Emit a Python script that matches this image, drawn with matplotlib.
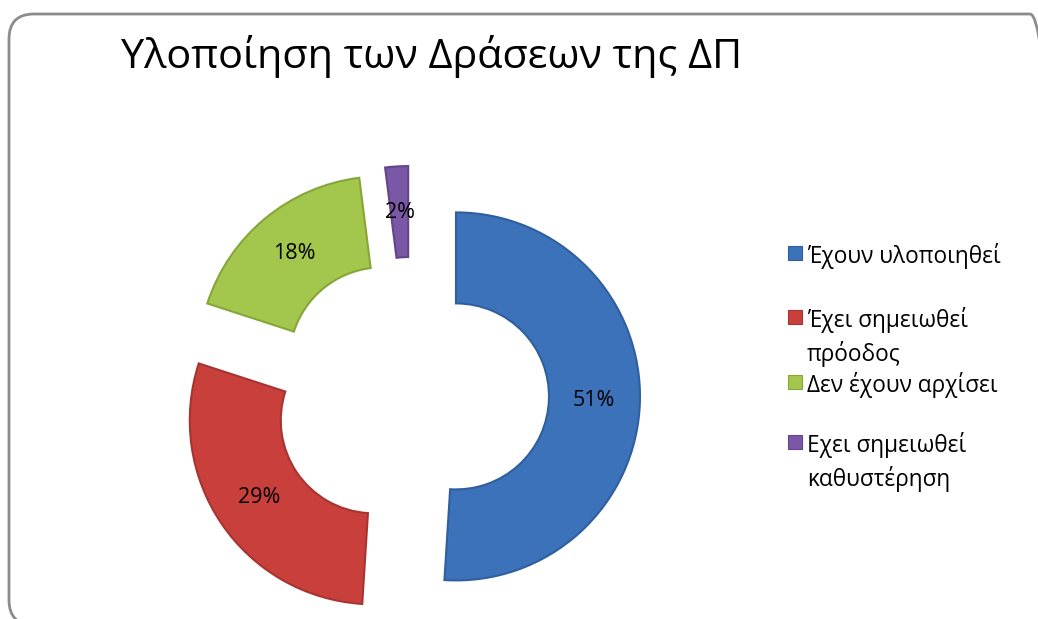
import matplotlib
matplotlib.use("Agg")
import matplotlib.pyplot as plt
from matplotlib.patches import FancyBboxPatch, Rectangle

# chart data
categories = ["Έχουν υλοποιηθεί", "Έχει σημειωθεί\nπρόοδος",
              "Δεν έχουν αρχίσει", "Εχει σημειωθεί\nκαθυστέρηση"]
shares = [51, 29, 18, 2]
title = "Υλοποίηση των Δράσεων της ΔΠ"

colors = ["#3b72ba", "#c93f3b", "#a3c64c", "#7a58a5"]
edges = ["#2f5f9e", "#a83431", "#86a63a", "#634689"]

plt.rcParams["font.family"] = ["Open Sans", "DejaVu Sans"]

W, H = 1038, 619
fig = plt.figure(figsize=(W / 100, H / 100), dpi=100)
ax = fig.add_axes([0, 0, 1, 1])

# exploded doughnut, pixel units (y up)
wedges, _, pcts = ax.pie(
    shares,
    explode=[45] * len(shares),
    startangle=90,
    counterclock=False,
    radius=184,
    center=(411, H - 395),
    colors=colors,
    autopct="%1.0f%%",
    pctdistance=0.75,
    wedgeprops=dict(width=91, linewidth=1.5),
    textprops=dict(fontsize=15.5, color="black"),
)
for w, ec in zip(wedges, edges):
    w.set_edgecolor(ec)

ax.set_xlim(0, W)
ax.set_ylim(0, H)
ax.set_aspect("auto")
ax.axis("off")

# title
ax.text(121, H - 68, title, fontsize=29.8, ha="left", va="baseline")

# legend (drawn by hand to keep the spacing of the original)
leg_y = [253, 317, 382, 442]
for lab, c, ec, py in zip(categories, colors, edges, leg_y):
    ax.add_patch(Rectangle((788, H - py - 7), 14, 14, facecolor=c,
                           edgecolor=ec, linewidth=0.8))
    ax.text(807, H - py + 10, lab, fontsize=16.3, ha="left", va="top",
            linespacing=1.42)

# rounded outer frame
frame = FancyBboxPatch((9, H - 625), 1046, 611,
                       boxstyle="round,pad=0,rounding_size=25",
                       facecolor="none", edgecolor="#8c8c8c", linewidth=2)
ax.add_patch(frame)

fig.savefig("out.png", dpi=100)
